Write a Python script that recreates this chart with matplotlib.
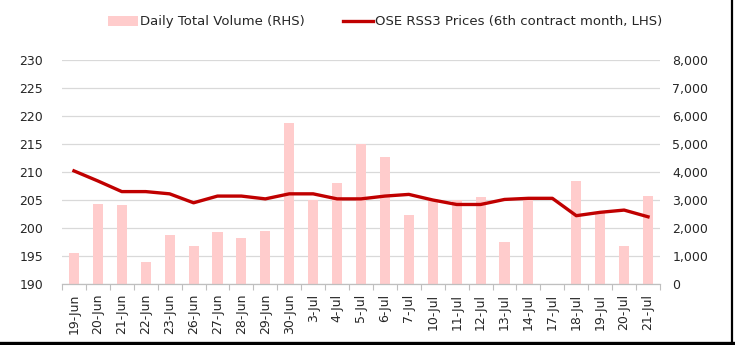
import matplotlib
matplotlib.use("Agg")
import matplotlib.pyplot as plt
from matplotlib.lines import Line2D
import numpy as np

# Trading days, OSE RSS3 price (6th contract month) and daily total volume
dates = ["19-Jun", "20-Jun", "21-Jun", "22-Jun", "23-Jun", "26-Jun", "27-Jun",
         "28-Jun", "29-Jun", "30-Jun", "3-Jul", "4-Jul", "5-Jul", "6-Jul",
         "7-Jul", "10-Jul", "11-Jul", "12-Jul", "13-Jul", "14-Jul", "17-Jul",
         "18-Jul", "19-Jul", "20-Jul", "21-Jul"]
prices = [210.2, 208.4, 206.5, 206.5, 206.1, 204.5, 205.7, 205.7, 205.2,
          206.1, 206.1, 205.2, 205.2, 205.7, 206.0, 205.0, 204.2, 204.2,
          205.1, 205.3, 205.3, 202.2, 202.8, 203.2, 202.0]
volumes = [1100, 2860, 2820, 780, 1750, 1340, 1860, 1660, 1900, 5740, 3000,
           3620, 4990, 4540, 2460, 3050, 3000, 3090, 1490, 3060, 0, 3690,
           2550, 1370, 3130]

price_ticks = [190, 195, 200, 205, 210, 215, 220, 225, 230]
volume_ticks = [0, 1000, 2000, 3000, 4000, 5000, 6000, 7000, 8000]

text_color = "#262626"
plt.rcParams["font.family"] = "DejaVu Sans"
plt.rcParams["font.size"] = 9

fig = plt.figure(figsize=(7.35, 3.45), dpi=100)
ax_vol = fig.add_axes([62 / 735, 1 - 284 / 345, 598 / 735, 224 / 345])
ax_px = ax_vol.twinx()
x = np.arange(len(dates))

# volume bars on the right-hand scale
bars = ax_vol.bar(x, volumes, width=0.42, color="#FFCCCC", zorder=2)
ax_vol.set_ylim(0, 8000)
ax_vol.set_yticks(volume_ticks)
ax_vol.set_yticklabels([f"{v:,}" for v in volume_ticks])
ax_vol.yaxis.tick_right()
ax_vol.tick_params(axis="y", length=0, pad=9, colors=text_color)
ax_vol.grid(axis="y", color="#D9D9D9", linewidth=0.9, zorder=0)
ax_vol.set_axisbelow(True)

ax_vol.set_xlim(-0.5, len(dates) - 0.5)
ax_vol.set_xticks(x)
ax_vol.set_xticklabels(dates, rotation=90, ha="center", va="top")
ax_vol.set_xticks(np.arange(len(dates) + 1) - 0.5, minor=True)
ax_vol.tick_params(axis="x", which="major", length=0, pad=7, colors=text_color)
ax_vol.tick_params(axis="x", which="minor", length=4, width=0.8, color="#BFBFBF")

for side in ["top", "left", "right"]:
    ax_vol.spines[side].set_visible(False)
ax_vol.spines["bottom"].set_color("#BFBFBF")
ax_vol.spines["bottom"].set_linewidth(0.9)

# price line on the left-hand scale
ax_px.plot(x, prices, color="#C00000", linewidth=2.4, zorder=3)
ax_px.set_ylim(190, 230)
ax_px.set_yticks(price_ticks)
ax_px.yaxis.tick_left()
ax_px.tick_params(axis="y", length=0, pad=13.5, colors=text_color)
for side in ["top", "left", "right", "bottom"]:
    ax_px.spines[side].set_visible(False)

handles = [bars, Line2D([0], [0], color="#C00000", linewidth=2.4)]
labels = ["Daily Total Volume (RHS)", "OSE RSS3 Prices (6th contract month, LHS)"]
fig.legend(handles, labels, loc="center", bbox_to_anchor=(385 / 735, 1 - 22 / 345),
           ncol=2, frameon=False, fontsize=9.5, handlelength=2.3,
           handletextpad=0.15, columnspacing=2.9, labelcolor=text_color)

# dark edge along the right and bottom of the figure
fig.add_artist(Line2D([732 / 735, 732 / 735], [0, 1], color="black",
                      linewidth=1.6, transform=fig.transFigure))
fig.add_artist(Line2D([0, 1], [2.5 / 345, 2.5 / 345], color="black",
                      linewidth=2.4, transform=fig.transFigure))

fig.savefig("out.png", dpi=100, facecolor="white")
